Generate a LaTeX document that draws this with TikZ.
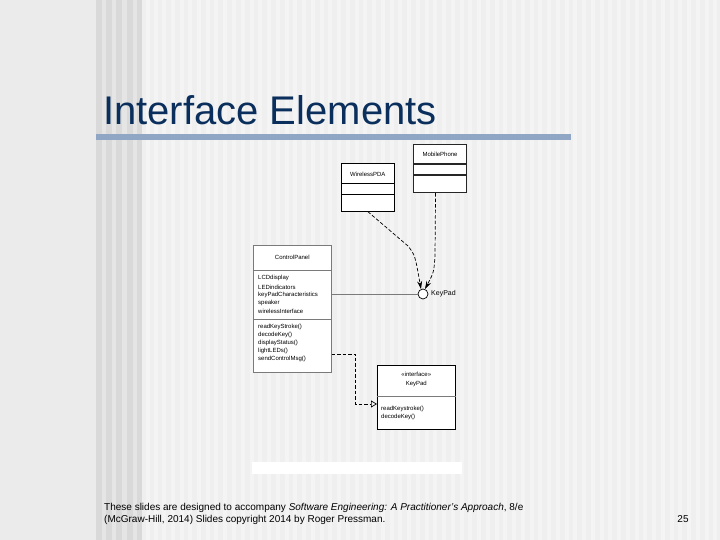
\documentclass[tikz,border=0pt]{standalone}
\usepackage{fontspec}
\setmainfont{Liberation Sans}
\usetikzlibrary{arrows.meta}
\definecolor{titleblue}{HTML}{0B2F5C}
\definecolor{barblue}{HTML}{8FA7C4}
\definecolor{leftgray}{HTML}{EBEBEB}
\definecolor{darkstripe}{HTML}{D9D9D9}
\definecolor{midstripe}{HTML}{E5E5E5}
\definecolor{lightbase}{HTML}{EFEFEF}
\definecolor{lightstripe}{HTML}{F4F4F4}
\definecolor{boxgray}{HTML}{7A7A7A}
\begin{document}
\begin{tikzpicture}[x=1pt,y=-1pt,
  umlbox/.style={draw, rectangle, inner sep=0pt, anchor=north west, fill=white},
  nametxt/.style={font=\fontsize{6}{7}\selectfont, inner sep=0pt},
  itemtxt/.style={font=\fontsize{6}{7}\selectfont, inner sep=0pt, anchor=west},
  depline/.style={draw=black, line width=0.7pt, dash pattern=on 3.5pt off 2pt, -{Stealth[length=8pt,width=5pt]}},
  realline/.style={draw=black, line width=0.7pt, dash pattern=on 3.5pt off 2pt, -{Triangle[open,length=6pt,width=7pt]}}]
% background
\fill[leftgray] (0,0) rectangle (720,540);
\fill[midstripe] (96,0) rectangle (142,540);
\foreach \x in {96,106,116,127,137} \fill[darkstripe] (\x,0) rectangle (\x+5.5,540);
\fill[lightbase] (142,0) rectangle (720,540);
\foreach \x in {146,154,162,171,180,188,197,206,214,223,232,241,250,258,267,276,285,293,302,311,320,328,337,346,355,363,372,381,390,398,407,416,425,433,442,451,460,468,477,486,495,503,512,521,530,538,547,556,565,573,582,591,600,608,617,626,635,643,652,661,670,678,687,696,705,713}
  \fill[lightstripe] (\x,0) rectangle (\x+4,540);
% title
\node[font=\fontsize{40}{44}\selectfont, text=titleblue, anchor=base west, inner sep=0pt] (title) at (103,125) {Interface Elements};
\fill[barblue] (96,134) rectangle (571,140);
% white strip
\fill[white] (252,462) rectangle (462,474);

% MobilePhone
\node[umlbox, draw=black!85, line width=1.1pt, minimum width=53pt, minimum height=48pt] (mp) at (413,144) {};
\draw[black!85, line width=1.1pt] ([yshift=-20pt]mp.north west) -- ([yshift=-20pt]mp.north east);
\draw[black!85, line width=1.1pt] ([yshift=-31pt]mp.north west) -- ([yshift=-31pt]mp.north east);
\node[nametxt] (mpname) at ([yshift=-10pt]mp.north) {MobilePhone};

% WirelessPDA
\node[umlbox, draw=black, line width=0.6pt, minimum width=53pt, minimum height=48pt] (pda) at (341,163) {};
\draw[black, line width=0.6pt] ([yshift=-20pt]pda.north west) -- ([yshift=-20pt]pda.north east);
\draw[black, line width=0.6pt] ([yshift=-31pt]pda.north west) -- ([yshift=-31pt]pda.north east);
\node[nametxt] (pdaname) at ([yshift=-11pt]pda.north) {WirelessPDA};

% ControlPanel
\node[umlbox, draw=boxgray, line width=0.6pt, minimum width=78pt, minimum height=127pt] (cp) at (253,245) {};
\draw[boxgray, line width=0.6pt] ([yshift=-25pt]cp.north west) -- ([yshift=-25pt]cp.north east);
\draw[boxgray, line width=0.6pt] ([yshift=-74pt]cp.north west) -- ([yshift=-74pt]cp.north east);
\node[nametxt] (cpname) at ([yshift=-12pt]cp.north) {ControlPanel};
\node[itemtxt] (a1) at (258,278) {LCDdisplay};
\node[itemtxt] (a2) at (258,287) {LEDindicators};
\node[itemtxt] (a3) at (258,294.5) {keyPadCharacteristics};
\node[itemtxt] (a4) at (258,302.5) {speaker};
\node[itemtxt] (a5) at (258,311.5) {wirelessInterface};
\node[itemtxt] (o1) at (258,327) {readKeyStroke()};
\node[itemtxt] (o2) at (258,334.5) {decodeKey()};
\node[itemtxt] (o3) at (258,342.5) {displayStatus()};
\node[itemtxt] (o4) at (258,351) {lightLEDs()};
\node[itemtxt] (o5) at (258,359) {sendControlMsg()};

% KeyPad lollipop
\node[draw=black, line width=0.7pt, fill=white, circle, minimum size=10pt, inner sep=0pt] (kpc) at (423,294) {};
\node[font=\fontsize{7}{8}\selectfont, anchor=west, inner sep=0pt] (kplabel) at (431,294) {KeyPad};
\draw[boxgray, line width=0.6pt] (kpc.west) -- (kpc.west -| cp.east);

% interface KeyPad
\node[umlbox, draw=black, line width=0.6pt, minimum width=78pt, minimum height=64pt] (ikp) at (377,365) {};
\draw[boxgray, line width=0.6pt] ([yshift=-31pt]ikp.north west) -- ([yshift=-31pt]ikp.north east);
\node[nametxt] (ikpst) at ([yshift=-9pt]ikp.north) {«interface»};
\node[nametxt] (ikpname) at ([yshift=-19pt]ikp.north) {KeyPad};
\node[itemtxt] (io1) at (381,409) {readKeystroke()};
\node[itemtxt] (io2) at (381,417) {decodeKey()};

% connectors
\draw[depline] (pda.south) -- (408,246) .. controls (415,255) .. (kpc.112);
\draw[depline] ([xshift=-4.5pt]mp.south) -- (435,255) .. controls (434,272) .. (kpc.68);
\draw[realline] ([yshift=-109pt]cp.north east) -- ++(24,0) |- ([yshift=-39pt]ikp.north west);

% footer
\node[font=\fontsize{10}{12}\selectfont, anchor=base west, inner sep=0pt, align=left] (foot1) at (104,510.5)
  {These slides are designed to accompany \textit{Software Engineering: A Practitioner's Approach}, 8/e};
\node[font=\fontsize{10}{12}\selectfont, anchor=base west, inner sep=0pt, align=left] (foot2) at (104,522.5)
  {(McGraw-Hill, 2014) Slides copyright 2014 by Roger Pressman.};
\node[font=\fontsize{10}{12}\selectfont, anchor=base, inner sep=0pt] (pg) at (683,522) {25};
\useasboundingbox (0,0) rectangle (720,540);
\end{tikzpicture}
\end{document}
